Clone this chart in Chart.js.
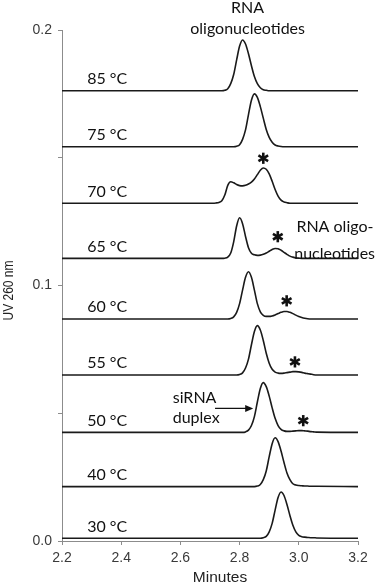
<!DOCTYPE html>
<html><head><meta charset="utf-8">
<script src="https://cdn.jsdelivr.net/npm/chart.js@4.4.1/dist/chart.umd.min.js"></script>
<style>html,body{margin:0;padding:0;background:#fff;}canvas{display:block;}</style>
</head><body>
<canvas id="c" width="376" height="585"></canvas>
<script>
// ---- data (signal in mAU at 260 nm; traces are stacked by their baseline offset) ----
const minutes = [2.20, 2.70, 2.71, 2.72, 2.73, 2.74, 2.75, 2.76, 2.77, 2.78, 2.79, 2.80, 2.81, 2.82, 2.83, 2.84, 2.85, 2.86, 2.87, 2.88, 2.89, 2.90, 2.91, 2.92, 2.93, 2.94, 2.95, 2.96, 2.97, 2.98, 2.99, 3.00, 3.01, 3.02, 3.03, 3.04, 3.05, 3.06, 3.20];
const temperatures = ["85 °C", "75 °C", "70 °C", "65 °C", "60 °C", "55 °C", "50 °C", "40 °C", "30 °C"];
const baselineOffsets = [176.2, 154.3, 132.2, 110.6, 86.9, 65.0, 42.5, 21.3, 1.1];
const trace85 = [0, 0,0,0,0,0, 0.2,0.8,2.8,6.4,12.1,17.5,19.9,18.3,14.5,9.8,5.6,2.8,1.2,0.4,0.2, 0,0,0,0,0,0,0,0,0,0,0,0,0,0,0,0,0, 0];
const trace75 = [0, 0,0,0,0,0,0,0,0,0, 0.2,0.8,2.9,6.6,12.6,18.2,20.7,19.3,15.7,11.2,6.8,3.7,1.8,0.7,0.3,0.1, 0,0,0,0,0,0,0,0,0,0,0,0, 0];
const trace70 = [0, 0,0,0.1,0.3,1.0,3.2,7.0,8.4,8.0,7.3,6.9,6.8,7.0,7.5,8.3,9.5,11.2,12.9,13.8,13.3,11.5,8.6,5.4,2.8,1.2,0.5,0.2,0, 0,0,0,0,0,0,0,0,0, 0];
const trace65 = [0, 0,0,0,0,0, 0.1,0.5,2.1,6.5,12.7,15.9,13.6,8.6,4.2,2.0,1.4,1.2,1.3,1.6,2.1,2.8,3.5,3.9,3.8,3.2,2.4,1.6,0.9,0.5,0.2,0.1, 0,0,0,0,0,0, 0];
const trace60 = [0, 0,0,0,0,0,0,0, 0.2,0.8,2.6,6.0,11.3,16.3,18.5,16.3,11.3,6.0,2.8,1.4,1.0,1.0,1.2,1.6,2.1,2.6,2.9,2.9,2.6,2.1,1.5,1.0,0.6,0.3,0.1, 0,0,0, 0];
const trace55 = [0, 0,0,0,0,0,0,0,0,0,0, 0.2,0.8,2.7,6.2,11.8,17.0,19.3,17.6,13.5,8.5,4.6,2.2,1.1,0.7,0.6,0.7,0.9,1.1,1.3,1.3,1.2,1.0,0.7,0.5,0.3,0.1,0, 0];
const trace50 = [0, 0,0,0,0,0,0,0,0,0,0,0,0, 0.2,0.9,2.7,6.2,11.9,17.2,19.5,17.9,14.2,9.6,5.5,2.7,1.2,0.6,0.4,0.4,0.5,0.6,0.7,0.7,0.6,0.5,0.3,0.2,0.1, 0];
const trace40 = [0, 0,0,0,0,0,0,0,0,0,0,0,0,0,0,0,0, 0.2,0.8,2.7,6.1,11.7,16.8,19.1,17.6,13.9,9.4,5.3,2.7,1.1,0.6,0.4,0.3,0.2,0.2,0.1,0.1,0.1, 0];
const trace30 = [0, 0,0,0,0,0,0,0,0,0,0,0,0,0,0,0,0,0,0, 0.2,0.7,2.5,5.8,11.0,15.9,18.1,16.7,13.2,8.9,5.1,2.5,1.1,0.6,0.4,0.3,0.2,0.2,0.1, 0];
const traces = [trace85, trace75, trace70, trace65, trace60, trace55, trace50, trace40, trace30];
const xTickValues = [2.2, 2.4, 2.6, 2.8, 3.0, 3.2];
const yTickValues = [0.0, 0.05, 0.10, 0.15, 0.20];
const yLabelValues = [0.0, 0.1, 0.2];
// marked secondary peaks (*) : [minutes, AU]
const starMarks = [[2.880, 0.1498], [2.929, 0.1191], [2.959, 0.0940], [2.987, 0.0701], [3.015, 0.0471]];

// ---- chart ----
const datasets = traces.map((tr, i) => ({
  label: temperatures[i],
  data: minutes.map((m, k) => ({x: m, y: (baselineOffsets[i] + tr[k]) / 1000})),
  borderColor: '#1a1a1a', borderWidth: 1.6, pointRadius: 0,
  cubicInterpolationMode: 'monotone', fill: false
}));

const notes = [
  {text: 'RNA', x: 2.827, y: 0.2065, align: 'center'},
  {text: 'oligonucleotides', x: 2.827, y: 0.1986, align: 'center'},
  {text: 'RNA oligo-', x: 3.122, y: 0.1211, align: 'center'},
  {text: 'nucleotides', x: 3.121, y: 0.1104, align: 'center'},
  {text: 'siRNA', x: 2.574, y: 0.0539, align: 'left'},
  {text: 'duplex', x: 2.574, y: 0.0461, align: 'left'}
];

const annotPlugin = {
  id: 'annot',
  afterDatasetsDraw(chart) {
    const {ctx, scales: {x, y}} = chart;
    ctx.save();
    ctx.fillStyle = '#111';
    ctx.strokeStyle = '#111';
    // temperature labels
    ctx.font = '16px Lato';
    ctx.textAlign = 'right';
    ctx.textBaseline = 'alphabetic';
    temperatures.forEach((t, i) => {
      ctx.fillText(t, x.getPixelForValue(2.42), y.getPixelForValue(baselineOffsets[i] / 1000) - 6.5);
    });
    // notes
    notes.forEach(n => {
      ctx.textAlign = n.align;
      ctx.fillText(n.text, x.getPixelForValue(n.x), y.getPixelForValue(n.y));
    });
    // arrow
    const ay = y.getPixelForValue(0.0519);
    const ax0 = x.getPixelForValue(2.717), ax1 = x.getPixelForValue(2.846);
    ctx.lineWidth = 1.2;
    ctx.beginPath(); ctx.moveTo(ax0, ay); ctx.lineTo(ax1 - 6, ay); ctx.stroke();
    ctx.beginPath(); ctx.moveTo(ax1, ay); ctx.lineTo(ax1 - 8, ay - 3.5); ctx.lineTo(ax1 - 8, ay + 3.5); ctx.closePath(); ctx.fill();
    // asterisks
    ctx.lineWidth = 2.6;
    starMarks.forEach(([sx, sy]) => {
      const px = x.getPixelForValue(sx), py = y.getPixelForValue(sy);
      [90, 30, 150].forEach(a => {
        const r = 5.6, rad = a * Math.PI / 180;
        ctx.beginPath();
        ctx.moveTo(px - r * Math.cos(rad), py - r * Math.sin(rad));
        ctx.lineTo(px + r * Math.cos(rad), py + r * Math.sin(rad));
        ctx.stroke();
      });
    });
    // axis titles
    ctx.fillStyle = '#222';
    ctx.textAlign = 'center';
    ctx.textBaseline = 'middle';
    ctx.font = '15.5px "Liberation Sans", Arial, sans-serif';
    ctx.fillText('Minutes', 220, 578);
    ctx.translate(9, 290.5);
    ctx.rotate(-Math.PI / 2);
    ctx.scale(0.8, 1);
    ctx.font = '15px "Liberation Sans", Arial, sans-serif';
    ctx.fillText('UV 260 nm', 0, 0);
    ctx.restore();
  }
};

new Chart(document.getElementById('c'), {
  type: 'line',
  data: {datasets},
  options: {
    responsive: false, animation: false, devicePixelRatio: 1,
    layout: {padding: {left: 0, right: 18, top: 30, bottom: 0}},
    plugins: {legend: {display: false}, tooltip: {enabled: false}},
    scales: {
      x: {
        type: 'linear', min: 2.2, max: 3.2,
        afterBuildTicks: s => { s.ticks = xTickValues.map(v => ({value: v})); },
        afterFit: s => { s.height = 44; },
        ticks: {callback: v => v.toFixed(1), color: '#3a3a3a', padding: 5,
          font: {family: '"Liberation Sans", Arial, sans-serif', size: 14}, maxRotation: 0, autoSkip: false},
        grid: {drawOnChartArea: false, drawTicks: true, tickLength: 4, color: '#8c8c8c'},
        border: {display: true, color: '#8c8c8c', width: 1}
      },
      y: {
        type: 'linear', min: 0, max: 0.2,
        afterBuildTicks: s => { s.ticks = yTickValues.map(v => ({value: v})); },
        afterFit: s => { s.width = 62; },
        ticks: {callback: v => yLabelValues.some(l => Math.abs(l - v) < 1e-9) ? v.toFixed(1) : '',
          color: '#3a3a3a', padding: 6, font: {family: '"Liberation Sans", Arial, sans-serif', size: 14}, autoSkip: false},
        grid: {drawOnChartArea: false, drawTicks: true, tickLength: 4, color: '#8c8c8c'},
        border: {display: true, color: '#8c8c8c', width: 1}
      }
    }
  },
  plugins: [annotPlugin]
});
</script>
</body></html>
